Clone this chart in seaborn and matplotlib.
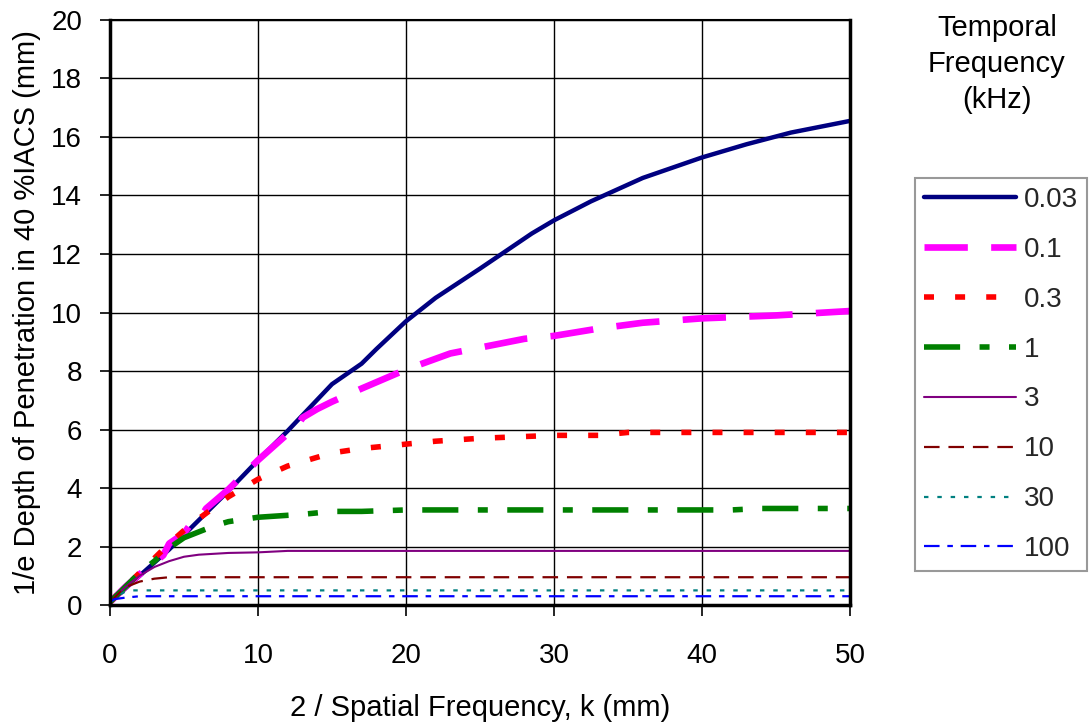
import matplotlib
matplotlib.use("Agg")
import matplotlib.pyplot as plt
import seaborn as sns
import numpy as np
from matplotlib.lines import Line2D

sns.set_theme(style="white")
plt.rcParams['font.family'] = ['Liberation Sans', 'DejaVu Sans']

labels = ["0.03", "0.1", "0.3", "1", "3", "10", "30", "100"]

x_003 = [0, 1, 2, 3, 4, 5, 6, 8, 10, 12, 15, 17, 18, 20, 22, 25, 28.5, 30, 32.5, 36, 40, 43, 46, 50]
y_003 = [0.1, 0.55, 1.0, 1.45, 1.9, 2.4, 2.9, 3.9, 4.95, 5.95, 7.55, 8.25, 8.75, 9.7, 10.5, 11.5, 12.7, 13.15, 13.8, 14.6, 15.3, 15.75, 16.15, 16.55]

x_01 = [0, 1, 2, 3, 3.6, 4, 5, 5.5, 6, 6.5, 8, 10, 12, 12.5, 13, 14, 15, 17, 20, 23, 25, 28, 30, 33, 36, 40, 45, 50]
y_01 = [0.1, 0.6, 1.05, 1.45, 1.7, 2.1, 2.45, 2.8, 2.9, 3.3, 3.95, 4.95, 5.85, 5.95, 6.4, 6.7, 6.95, 7.4, 8.05, 8.6, 8.8, 9.1, 9.2, 9.45, 9.65, 9.8, 9.9, 10.05]

x_03 = [0, 1, 2, 3, 4, 5, 6, 8, 10, 12, 15, 17, 20, 22, 25, 30, 33, 35, 40, 50]
y_03 = [0.1, 0.6, 1.1, 1.6, 2.1, 2.55, 2.95, 3.7, 4.3, 4.75, 5.2, 5.35, 5.5, 5.6, 5.7, 5.8, 5.8, 5.9, 5.9, 5.9]

x_1 = [0, 1, 2, 3, 4, 5, 6, 7, 8, 10, 13, 15, 17, 20, 30, 42, 44, 50]
y_1 = [0.1, 0.6, 1.1, 1.5, 1.95, 2.3, 2.5, 2.7, 2.85, 3.0, 3.1, 3.2, 3.2, 3.25, 3.25, 3.25, 3.3, 3.3]

x_3 = [0, 1, 2, 3, 4, 5, 6, 8, 10, 12, 20, 50]
y_3 = [0.1, 0.6, 1.0, 1.3, 1.5, 1.65, 1.72, 1.78, 1.8, 1.85, 1.85, 1.85]

x_10 = [0, 1, 2, 3, 4, 6, 50]
y_10 = [0.1, 0.6, 0.8, 0.9, 0.95, 0.95, 0.95]

x_30 = [0, 0.5, 1, 1.5, 3, 50]
y_30 = [0.1, 0.3, 0.45, 0.5, 0.5, 0.5]

x_100 = [0, 0.3, 1, 2, 5, 50]
y_100 = [0.1, 0.2, 0.25, 0.3, 0.3, 0.3]

series = [(x_003, y_003), (x_01, y_01), (x_03, y_03), (x_1, y_1),
          (x_3, y_3), (x_10, y_10), (x_30, y_30), (x_100, y_100)]
colors = ["#000080", "#FF00FF", "#FF0000", "#008000", "#800080", "#800000", "#008080", "#0000FF"]
widths = [3.2, 4.8, 4.0, 4.0, 1.5, 1.6, 1.6, 1.6]
dashes = [None, (6.5, 3.5), (1.8, 3.8), (6.5, 3.5, 1.8, 3.5), None, (7, 4), (2, 4), (7, 3.5, 2.5, 3.5)]

fig = plt.figure(figsize=(10.89, 7.27), dpi=100)
ax = fig.add_axes([0.101, 0.1678, 0.6795, 0.8047])

handles = []
for (xs, ys), c, w, d, lab in zip(series, colors, widths, dashes, labels):
    sns.lineplot(x=xs, y=ys, ax=ax, color=c, linewidth=w, sort=False, estimator=None)
    ln = ax.lines[-1]
    if d is not None:
        ln.set_dashes(d)
    h = Line2D([], [], color=c, linewidth=w)
    if d is not None:
        h.set_dashes(d)
    handles.append(h)

ax.set_xlim(0, 50)
ax.set_ylim(0, 20)
ax.set_xticks(np.arange(0, 51, 10))
ax.set_yticks(np.arange(0, 21, 2))
ax.grid(True, color="#000000", linewidth=1.0)
ax.set_axisbelow(True)
for s in ax.spines.values():
    s.set_color("black")
    s.set_linewidth(1.5)
ax.spines['left'].set_linewidth(2.5)
ax.spines['bottom'].set_linewidth(2.5)
ax.spines['right'].set_linewidth(2.5)
ax.tick_params(axis='both', labelsize=20, colors="black", direction='out', left=True, bottom=True, width=1.2)
ax.tick_params(axis='x', length=8, pad=19)
ax.tick_params(axis='y', length=7, pad=13)
ax.set_xlabel("2 / Spatial Frequency, k (mm)", fontsize=21, color="black", labelpad=18)
ax.set_ylabel("1/e Depth of Penetration in 40 %IACS (mm)", fontsize=21, color="black", labelpad=7)

leg = fig.legend(handles=handles, labels=labels, loc="upper left",
                 bbox_to_anchor=(915/1089, 1 - 178/727), frameon=True, fontsize=20,
                 handlelength=3.3, handletextpad=0.3, labelspacing=0.86,
                 borderpad=0.32, borderaxespad=0, fancybox=False)
leg.get_frame().set_edgecolor("#808080")
leg.get_frame().set_linewidth(1.5)
fig.text(997/1089, 1 - 64/727, "Temporal\nFrequency\n(kHz)", ha="center", va="center",
         fontsize=21, color="black", linespacing=1.35)

fig.savefig("out.png", dpi=100, facecolor="white")
